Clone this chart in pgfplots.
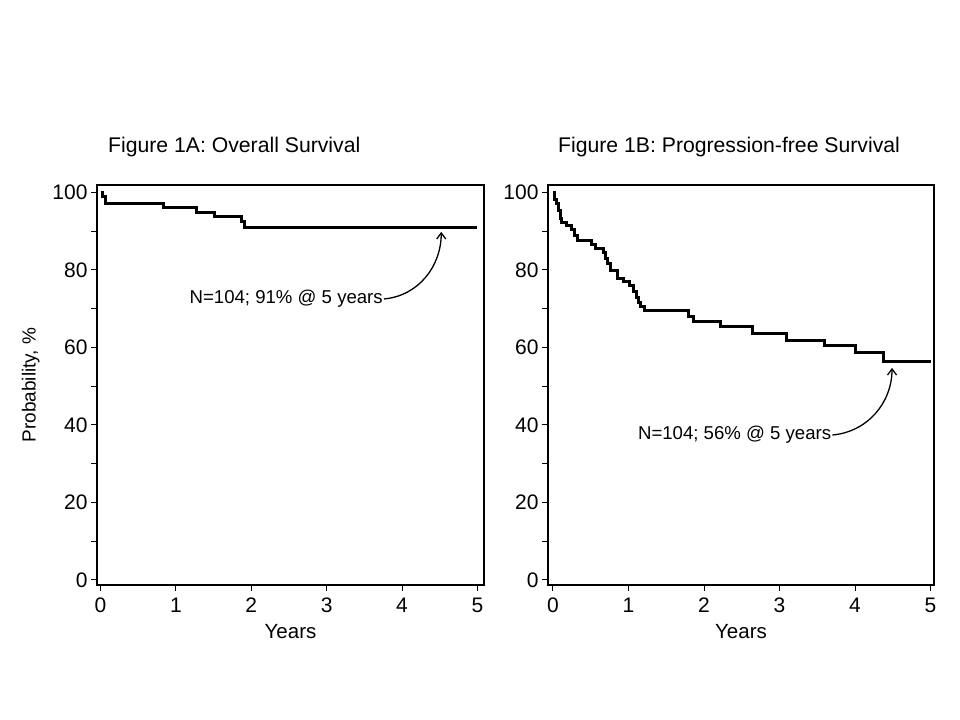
\documentclass[border=0pt]{standalone}
\usepackage{fontspec}
\setmainfont{Liberation Sans}
\usepackage{pgfplots}
\pgfplotsset{compat=1.18}
\usetikzlibrary{arrows.meta}

\pgfplotsset{
  km/.style={
    scale only axis,
    height=400bp,
    ymin=-1.3, ymax=101.9,
    xtick={0,...,5},
    ytick={0,20,...,100},
    minor ytick={10,30,...,90},
    xtick pos=bottom, ytick pos=left,
    tick align=outside,
    major tick length=6bp, minor tick length=6bp,
    tick style={black, line width=1bp},
    axis line style={line width=1.3bp},
    tick label style={font=\fontsize{21bp}{25bp}\selectfont},
    xticklabel style={text height=15bp, text depth=0pt, yshift=-3bp},
    /pgf/number format/assume math mode=true,
    xlabel style={font=\fontsize{20.5bp}{24bp}\selectfont, yshift=-5bp},
    ylabel style={font=\fontsize{19bp}{23bp}\selectfont, yshift=6bp},
    xlabel={Years},
    anchor=south west,
  },
  kmline/.style={const plot, black, line width=3bp, mark=none},
}
\tikzset{
  note/.style={font=\fontsize{18.6bp}{22bp}\selectfont, inner sep=1bp},
  notearrow/.style={-{Straight Barb[length=6bp,width=9bp]}, line width=1.3bp},
  figtitle/.style={anchor=west, font=\fontsize{21.2bp}{25bp}\selectfont, inner sep=0pt},
}

\begin{document}
\begin{tikzpicture}
\useasboundingbox (0,0) rectangle (960bp,720bp);

% Figure 1A
\begin{axis}[km, at={(97bp,135bp)}, width=387bp,
    xmin=-0.047, xmax=5.087,
    ylabel={Probability, \%}]
  \addplot[kmline] coordinates {
    (0,100) (0.03,98.9) (0.07,97.1) (0.83,96.1) (1.27,94.9)
    (1.51,93.8) (1.87,92.5) (1.91,91.0) (5.0,91.0)
  };
  \node[note, anchor=east] (a) at (axis cs:3.76,72.5) {N=104; 91\% @ 5 years};
  \draw[notearrow] (a.east) to[out=5, in=-90] (axis cs:4.52,89.8);
\end{axis}

% Figure 1B
\begin{axis}[km, at={(548bp,135bp)}, width=386bp,
    xmin=-0.066, xmax=5.046]
  \addplot[kmline] coordinates {
    (0,100) (0.02,98.1) (0.04,97.1) (0.07,95.2) (0.10,93.3) (0.115,92.3)
    (0.18,91.4) (0.25,90.4) (0.29,88.9) (0.325,87.5) (0.51,86.5)
    (0.56,85.6) (0.67,84.6) (0.70,83.0) (0.72,81.7) (0.76,79.8)
    (0.85,77.9) (0.93,76.9) (1.01,75.9) (1.07,74.5) (1.10,73.0)
    (1.13,71.5) (1.16,70.6) (1.21,69.4) (1.80,68.0) (1.86,66.6)
    (2.22,65.3) (2.64,63.6) (3.09,61.9) (3.60,60.4) (4.00,58.6)
    (4.38,56.4) (5.0,56.4)
  };
  \node[note, anchor=east] (b) at (axis cs:3.70,37.4) {N=104; 56\% @ 5 years};
  \draw[notearrow] (b.east) to[out=5, in=-90] (axis cs:4.49,54.7);
\end{axis}

\node[figtitle] at (108bp,573bp) {Figure 1A: Overall Survival};
\node[figtitle] at (558bp,573bp) {Figure 1B: Progression-free Survival};
\end{tikzpicture}
\end{document}
